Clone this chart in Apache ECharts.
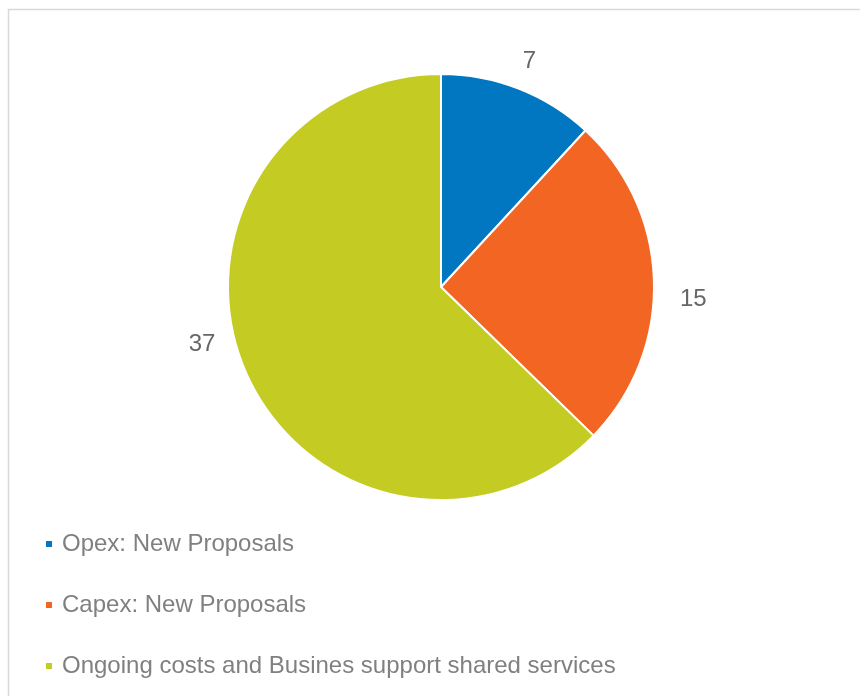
<!DOCTYPE html>
<html>
<head>
<meta charset="utf-8">
<script src="https://cdn.jsdelivr.net/npm/echarts@6/dist/echarts.min.js"></script>
<style>
  html, body { margin: 0; padding: 0; background: #fff; }
  #chart { width: 860px; height: 696px; }
</style>
</head>
<body>
<div id="chart"></div>
<script>
// Budget split across spending categories
const categories = [
  'Opex: New Proposals',
  'Capex: New Proposals',
  'Ongoing costs and Busines support shared services'
];
const values = [7, 15, 37];
const colors = ['#0077C0', '#F26522', '#C4CC23'];

const chart = echarts.init(document.getElementById('chart'), null, { renderer: 'canvas' });

const pieData = categories.map((name, i) => ({
  name: name,
  value: values[i],
  itemStyle: { color: colors[i] }
}));

// small nudges so the value labels sit where a best-fit layout puts them
const labelNudge = (params) => {
  const shifts = [[-8, -9], [1, 19], [-6, -33]];
  const s = shifts[params.dataIndex] || [0, 0];
  return { dx: s[0], dy: s[1] };
};

chart.setOption({
  animation: false,
  backgroundColor: '#ffffff',
  graphic: [{
    type: 'rect',
    shape: { x: 8.5, y: 9.5, width: 1000, height: 1000 },
    style: { fill: 'none', stroke: '#d9d9d9', lineWidth: 1.5 },
    silent: true,
    z: -1
  }],
  legend: {
    orient: 'vertical',
    left: 39,
    top: 527,
    icon: 'rect',
    itemWidth: 8,
    itemHeight: 8,
    itemGap: 37,
    selectedMode: false,
    textStyle: {
      fontFamily: 'Liberation Sans, Arial, sans-serif',
      fontSize: 24,
      lineHeight: 24,
      color: '#808080',
      padding: [0, 0, 0, 4]
    },
    data: categories
  },
  series: [{
    type: 'pie',
    center: [441, 287],
    radius: 213,
    startAngle: 90,
    clockwise: true,
    avoidLabelOverlap: false,
    itemStyle: { borderColor: '#ffffff', borderWidth: 2 },
    label: {
      show: true,
      position: 'outside',
      formatter: '{c}',
      fontFamily: 'Liberation Sans, Arial, sans-serif',
      fontSize: 24,
      color: '#666666'
    },
    labelLine: { show: false, length: 20, length2: 0 },
    labelLayout: labelNudge,
    emphasis: { disabled: true },
    data: pieData
  }]
});
</script>
</body>
</html>
